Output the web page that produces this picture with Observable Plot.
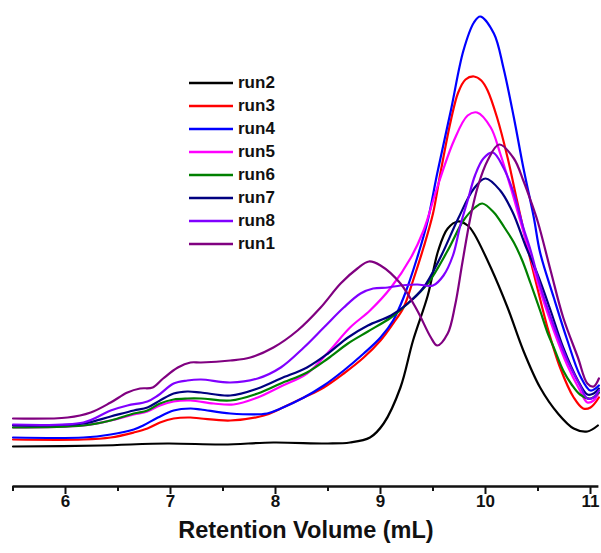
<!DOCTYPE html>
<html>
<head>
<meta charset="utf-8">
<script src="https://cdn.jsdelivr.net/npm/d3@7"></script>
<script src="https://cdn.jsdelivr.net/npm/@observablehq/plot@0.6"></script>
<style>
  html, body { margin: 0; padding: 0; background: #fff; }
  #wrap { position: relative; width: 601px; height: 553px; font-family: "Liberation Sans", Arial, sans-serif; }
  #legend { position: absolute; left: 189px; top: 71px; }
  .row { display: flex; align-items: center; height: 23.1px; }
  .row span { font-weight: bold; font-size: 17px; margin-left: 5px; color: #111; }
</style>
</head>
<body>
<div id="wrap"><div id="legend"></div></div>
<script>
// Retention volume (mL) / detector signal (arbitrary units)
const run2 = [[5.5,14],[6.33,15],[6.97,17],[7.5,16],[7.98,18],[8.5,17],[8.71,18],[8.90,23],[9.03,37],[9.19,73],[9.31,120],[9.45,165],[9.55,210],[9.64,232],[9.74,239],[9.83,235],[9.89,227],[10.05,193],[10.21,153],[10.36,110],[10.52,73],[10.69,47],[10.84,32],[10.97,29],[11.07,35]];
const run3 = [[5.5,21],[6.17,21],[6.43,23],[6.65,28],[6.78,32],[6.90,38],[7.03,42],[7.19,43],[7.29,42],[7.57,40],[7.89,45],[8.05,52],[8.27,63],[8.46,73],[8.65,87],[8.84,103],[9.00,120],[9.12,137],[9.22,153],[9.31,180],[9.41,213],[9.50,247],[9.57,287],[9.67,340],[9.74,368],[9.81,381],[9.89,384],[9.96,380],[10.02,370],[10.11,343],[10.21,303],[10.30,260],[10.40,213],[10.50,170],[10.59,133],[10.71,93],[10.84,63],[10.93,52],[11.00,53],[11.08,63]];
const run4 = [[5.5,23],[6.17,23],[6.43,26],[6.65,31],[6.74,35],[6.88,43],[7.03,50],[7.19,52],[7.29,51],[7.57,47],[7.92,47],[8.05,52],[8.27,63],[8.46,75],[8.65,90],[8.84,107],[9.00,123],[9.12,140],[9.22,163],[9.35,203],[9.45,240],[9.54,287],[9.67,350],[9.79,410],[9.89,438],[9.95,444],[10.08,427],[10.17,393],[10.27,343],[10.36,293],[10.46,243],[10.52,208],[10.65,163],[10.78,120],[10.90,85],[11.00,70],[11.08,75]];
const run5 = [[5.5,33],[6.17,35],[6.43,40],[6.65,46],[6.78,49],[6.90,55],[7.03,59],[7.19,60],[7.41,57],[7.60,56],[7.83,63],[8.05,74],[8.30,87],[8.50,108],[8.71,133],[8.90,150],[9.10,173],[9.29,203],[9.41,230],[9.54,273],[9.70,320],[9.83,345],[9.92,348],[10.05,333],[10.14,307],[10.24,273],[10.33,240],[10.40,215],[10.52,170],[10.65,130],[10.78,95],[10.90,70],[10.97,58],[11.03,60],[11.08,68]];
const run6 = [[5.5,33],[6.17,35],[6.43,40],[6.65,47],[6.78,50],[6.90,57],[7.03,61],[7.16,62],[7.29,62],[7.57,60],[7.83,67],[8.05,77],[8.30,88],[8.50,102],[8.69,117],[8.88,129],[9.10,143],[9.26,157],[9.45,177],[9.64,210],[9.79,240],[9.90,253],[9.97,257],[10.08,248],[10.18,233],[10.27,218],[10.35,200],[10.43,177],[10.52,150],[10.59,128],[10.65,113],[10.74,90],[10.82,76],[10.90,66],[11.00,62],[11.08,68]];
const run7 = [[5.5,35],[6.17,37],[6.43,44],[6.65,50],[6.78,53],[6.90,60],[7.03,67],[7.16,69],[7.29,68],[7.57,65],[7.83,72],[8.05,82],[8.30,93],[8.50,107],[8.69,123],[8.88,135],[9.10,145],[9.26,157],[9.41,173],[9.57,203],[9.74,242],[9.89,272],[10.00,282],[10.14,270],[10.26,248],[10.38,215],[10.50,185],[10.62,150],[10.74,113],[10.88,80],[10.97,66],[11.03,67],[11.08,72]];
const run8 = [[5.5,36],[6.17,38],[6.43,50],[6.59,55],[6.78,59],[6.88,65],[7.03,77],[7.16,80],[7.29,81],[7.57,78],[7.83,82],[8.05,93],[8.27,113],[8.46,133],[8.65,153],[8.81,167],[8.93,172],[9.07,173],[9.19,175],[9.35,176],[9.50,175],[9.60,185],[9.69,205],[9.76,235],[9.83,260],[9.90,285],[9.98,302],[10.07,308],[10.17,293],[10.27,267],[10.36,233],[10.43,210],[10.52,175],[10.65,135],[10.78,100],[10.90,75],[10.97,62],[11.03,63],[11.08,70]];
const run1 = [[5.5,42],[6.02,43],[6.24,48],[6.43,58],[6.59,68],[6.71,72],[6.83,73],[6.93,82],[7.07,93],[7.19,98],[7.29,98],[7.57,100],[7.76,103],[7.98,113],[8.21,130],[8.43,153],[8.62,177],[8.78,192],[8.89,199],[9.00,195],[9.19,177],[9.35,150],[9.48,123],[9.54,115],[9.64,127],[9.71,155],[9.78,198],[9.86,245],[9.93,275],[10.02,300],[10.13,316],[10.27,302],[10.36,280],[10.43,260],[10.50,238],[10.62,190],[10.74,143],[10.88,103],[10.97,77],[11.03,74],[11.08,82]];

const runNames = ["run2","run3","run4","run5","run6","run7","run8","run1"];
const runColors = ["#000000","#ff0000","#0000ff","#ff00ff","#008000","#000080","#8000ff","#800080"];
const runSeries = [run2, run3, run4, run5, run6, run7, run8, run1];
const majorTicks = [6, 7, 8, 9, 10, 11];
const minorTicks = [5.5, 6.5, 7.5, 8.5, 9.5, 10.5];
const xLabel = "Retention Volume (mL)";

const rows = runSeries.flatMap((s, i) => s.map(([v, y]) => ({run: runNames[i], v, y})));

const chart = Plot.plot({
  width: 601,
  height: 553,
  marginLeft: 12.5,
  marginRight: 2.6,
  marginTop: 10,
  marginBottom: 67,
  style: {fontFamily: "'Liberation Sans', Arial, sans-serif", background: "transparent", color: "#111"},
  x: {domain: [5.5, 11.08]},
  y: {domain: [-26, 450], axis: null},
  color: {domain: runNames, range: runColors},
  marks: [
    Plot.line(rows, {x: "v", y: "y", z: "run", stroke: "run", strokeWidth: 2.2, curve: "catmull-rom"}),
    Plot.ruleY([-26], {stroke: "#111", strokeWidth: 2.5}),
    Plot.axisX({ticks: majorTicks, tickSize: 8, tickPadding: 0, strokeWidth: 2, fontSize: 17, fontWeight: "bold", tickFormat: d => String(d), label: null}),
    Plot.axisX({ticks: minorTicks, tickSize: 5, strokeWidth: 2, text: null, label: null}),
    Plot.text([xLabel], {frameAnchor: "bottom", dy: 51, fontSize: 23.5, fontWeight: "bold", fill: "#111"})
  ]
});
const wrap = document.getElementById("wrap");
wrap.insertBefore(chart, wrap.firstChild);

const legend = document.getElementById("legend");
runNames.forEach((name, i) => {
  const row = document.createElement("div");
  row.className = "row";
  row.innerHTML = `<svg width="44" height="6"><line x1="0" x2="44" y1="3" y2="3" stroke="${runColors[i]}" stroke-width="2.5"/></svg><span>${name}</span>`;
  legend.appendChild(row);
});
</script>
</body>
</html>
